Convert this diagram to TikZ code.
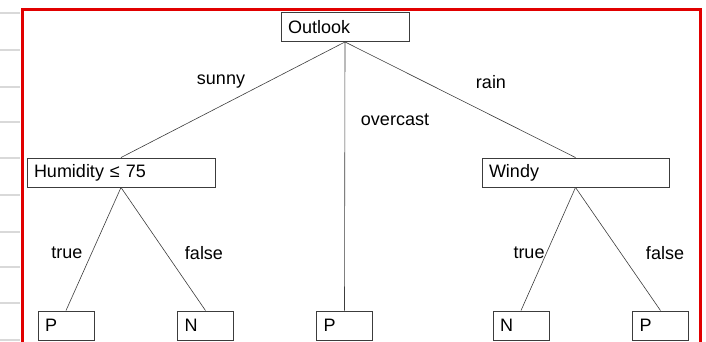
\documentclass[tikz,border=0pt]{standalone}
\usepackage{fontspec}
\setmainfont{Liberation Sans}
\definecolor{framered}{RGB}{225,0,0}
\definecolor{edgegray}{RGB}{60,60,60}
\tikzset{
  testbox/.style={draw=edgegray, line width=0.9pt, fill=white, inner xsep=7pt, inner ysep=0pt,
    minimum height=29pt, align=left, font=\fontsize{18}{20}\selectfont},
  leafbox/.style={testbox, text width=42pt},
  branch/.style={draw=edgegray, line width=0.6pt},
  branchlabel/.style={font=\fontsize{18}{20}\selectfont, inner sep=0pt}
}

\begin{document}
\begin{tikzpicture}[x=1pt, y=-1pt]
\useasboundingbox (0,0) rectangle (706,342);

% ruled lines left of the frame
\foreach \ly in {13,50,87,122,158,195,232,267,303,340}
  \draw[black!15, line width=1.8pt] (0,\ly) -- (20,\ly);

\draw[framered, line width=3.5pt] (22.5,9.5) rectangle (700.5,343.5);

\node[testbox, text width=114pt] (outlook) at (345,27) {Outlook};
\node[testbox, text width=174pt] (humidity) at (121,172.5) {Humidity ≤ 75};
\node[testbox, text width=173pt] (windy) at (575.5,172.5) {Windy};

\node[leafbox] (p1) at (66,325.5) {P};
\node[leafbox] (n1) at (205.5,325.5) {N};
\node[leafbox] (p2) at (344.5,325.5) {P};
\node[leafbox] (n2) at (521,325.5) {N};
\node[leafbox] (p3) at (660.5,325.5) {P};

\draw[branch] (outlook.south) -- (humidity.north);
\draw[branch] (outlook.south) -- (p2.north);
\draw[branch] (outlook.south) -- (windy.north);
\draw[branch] (humidity.south) -- (p1.north);
\draw[branch] (humidity.south) -- (n1.north);
\draw[branch] (windy.south) -- (n2.north);
\draw[branch] (windy.south) -- (p3.north);

\node[branchlabel] (sunny) at (221,82) {sunny};
\node[branchlabel] (overcast) at (395,120) {overcast};
\node[branchlabel] (rain) at (491,82) {rain};
\node[branchlabel] (true1) at (67,253) {true};
\node[branchlabel] (false1) at (204,253) {false};
\node[branchlabel] (true2) at (529,253) {true};
\node[branchlabel] (false2) at (665,253) {false};

\end{tikzpicture}
\end{document}
